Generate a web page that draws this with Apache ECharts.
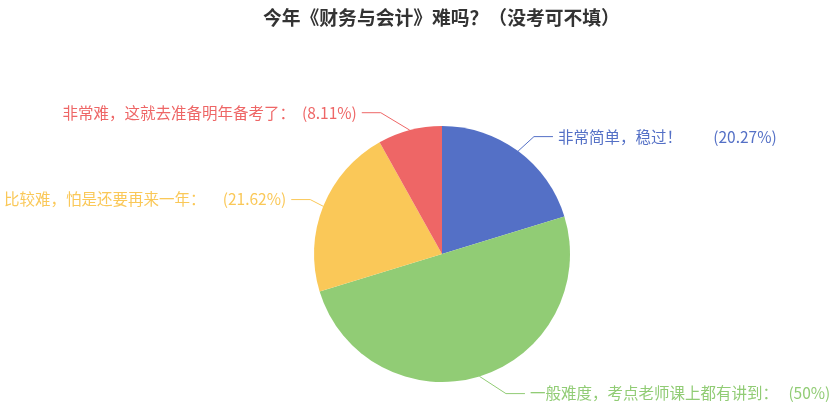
<!DOCTYPE html>
<html><head><meta charset="utf-8">
<script src="https://cdn.jsdelivr.net/npm/echarts@6/dist/echarts.min.js"></script>
<style>html,body{margin:0;padding:0;background:#fff}#c{width:840px;height:413px}</style>
</head><body><div id="c"></div>
<script>
const titleText = '今年《财务与会计》难吗？（没考可不填）';
const categories = ['非常简单，稳过！         ', '一般难度，考点老师课上都有讲到：   ', '比较难，怕是还要再来一年：     ', '非常难，这就去准备明年备考了：  '];
const counts = [15, 37, 16, 6];
const colors = ['#5470c6', '#91cc75', '#fac858', '#ee6666'];

const CX = 442, CY = 254, R = 128, LEN = 18, LEN2 = 19, GAP = 5;

const chart = echarts.init(document.getElementById('c'));
chart.setOption({
  color: colors,
  textStyle: { fontFamily: '"Noto Sans CJK SC", "Noto Sans", sans-serif' },
  title: {
    text: titleText,
    left: 258, top: 3,
    textStyle: { fontSize: 18.8, fontWeight: 'bold', color: '#333', fontFamily: '"Noto Sans CJK SC", sans-serif' }
  },
  series: [{
    type: 'pie',
    center: [CX, CY],
    radius: R,
    startAngle: 90,
    data: categories.map((n, i) => ({ name: n, value: counts[i] })),
    label: { formatter: '{b}({d}%)', fontSize: 15.5, color: 'inherit', overflow: 'none' },
    labelLine: { length: LEN, length2: LEN2 },
    labelLayout: function (p) {
      const pts = p.labelLinePoints;
      if (!pts) return {};
      const e = pts[0];
      const d = Math.hypot(e[0] - CX, e[1] - CY) || 1;
      const ux = (e[0] - CX) / d, uy = (e[1] - CY) / d;
      const side = ux < 0 ? -1 : 1;
      const y = CY + (R + LEN) * uy;
      const dy = Math.abs(y - CY);
      const RT = R + LEN + LEN2;
      const ax = CX + side * Math.sqrt(Math.max(RT * RT - dy * dy, 0));
      const lineEnd = ax - side * GAP;
      const kink = lineEnd - side * LEN2;
      return {
        x: ax, y: y,
        align: side < 0 ? 'right' : 'left',
        verticalAlign: 'middle',
        labelLinePoints: [[CX + R * ux, CY + R * uy], [kink, y], [lineEnd, y]]
      };
    }
  }]
});
</script></body></html>
